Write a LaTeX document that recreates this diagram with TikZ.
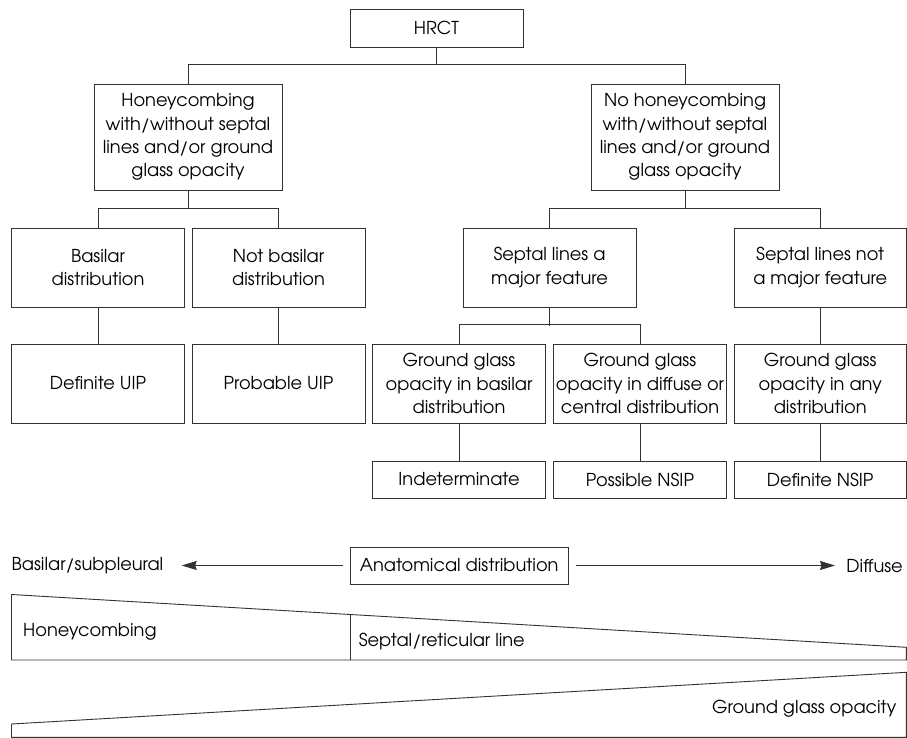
\documentclass[tikz,border=0pt]{standalone}
\usepackage{fontspec}
\setmainfont{TeX Gyre Adventor}
\usetikzlibrary{arrows.meta,calc}
\begin{document}
\begin{tikzpicture}[x=1pt,y=-1pt,
  every node/.style={font=\fontsize{17.8}{23.3}\selectfont},
  box/.style={draw=black!80,line width=0.9pt,inner sep=0pt,align=center,minimum width=173pt},
  big/.style={box,minimum width=188pt,minimum height=106pt},
  mid/.style={box,minimum height=79pt},
  leaf/.style={box,minimum height=37pt},
  conn/.style={draw=black!80,line width=0.9pt},
  arr/.style={conn,-{Stealth[length=15pt,width=9pt,inset=1.5pt]}},
  lbl/.style={inner sep=0pt}]
\useasboundingbox (0,0) rectangle (907,738);
% tree
\node[box,minimum width=173pt,minimum height=38pt] (hrct) at (436.5,28) {HRCT};
\node[big] (hc) at (188,137) {Honeycombing\\with/without septal\\lines and/or ground\\glass opacity};
\node[big] (nohc) at (685,137) {No honeycombing\\with/without septal\\lines and/or ground\\glass opacity};
\node[mid] (bas) at (98,267.5) {Basilar\\distribution};
\node[mid] (nbas) at (278.5,267.5) {Not basilar\\distribution};
\node[mid] (smaj) at (549.5,267.5) {Septal lines a\\major feature};
\node[mid,minimum width=172.5pt] (snot) at (820.2,267.5) {Septal lines not\\a major feature};
\node[mid] (duip) at (98,383.5) {Definite UIP};
\node[mid] (puip) at (278.5,383.5) {Probable UIP};
\node[mid] (gg1) at (459,383.5) {Ground glass\\opacity in basilar\\distribution};
\node[mid] (gg2) at (640,383.5) {Ground glass\\opacity in diffuse or\\central distribution};
\node[mid,minimum width=172.5pt] (gg3) at (820.2,383.5) {Ground glass\\opacity in any\\distribution};
\node[leaf] (ind) at (459,479.5) {Indeterminate};
\node[leaf] (pnsip) at (640,479.5) {Possible NSIP};
\node[leaf,minimum width=172.5pt] (dnsip) at (820.2,479.5) {Definite NSIP};
% connectors
\draw[conn] (hrct.south) -- ++(0,18);
\draw[conn] (hc.north) -- ++(0,-19) -| (nohc.north);
\draw[conn] (hc.south) -- ++(0,19);
\draw[conn] (bas.north) -- ++(0,-19) -| (nbas.north);
\draw[conn] (bas.south) -- (duip.north);
\draw[conn] (nbas.south) -- (puip.north);
\draw[conn] (nohc.south) -- ++(0,19);
\draw[conn] (smaj.north) -- ++(0,-19) -| (snot.north);
\draw[conn] (smaj.south) -- ++(0,18.7);
\draw[conn] (gg1.north) -- ++(0,-18.7) -| (gg2.north);
\draw[conn] (snot.south) -- (gg3.north);
\draw[conn] (gg1.south) -- (ind.north);
\draw[conn] (gg2.south) -- (pnsip.north);
\draw[conn] (gg3.south) -- (dnsip.north);
% anatomical distribution axis
\node[box,minimum width=218.5pt,minimum height=37pt] (anat) at (459.2,565.5) {Anatomical distribution};
\node[lbl,anchor=west] (basl) at (11.5,566) {Basilar/subpleural};
\node[lbl,anchor=east] (diff) at (903,566) {Diffuse};
\draw[arr] ([xshift=-7pt]anat.west) -- (181.7,565.5) coordinate (ltip);
\draw[arr] ([xshift=7.5pt]anat.east) -- (835,565.5) coordinate (rtip);
% wedges
\draw[conn] (11.5,594.5) -- (906.3,647.3) -- (906.3,660) -- (11.5,660) -- cycle;
\draw[conn] (350,614.5) -- (350,660);
\node[lbl,anchor=west] (hon) at (23,631.7) {Honeycombing};
\node[lbl,anchor=west] (sep) at (358.6,641.7) {Septal/reticular line};
\draw[conn] (11.5,724) -- (906.3,672.3) -- (906.3,737.3) -- (11.5,737.3) -- cycle;
\node[lbl,anchor=east] (ggo) at (896.5,708.3) {Ground glass opacity};
\end{tikzpicture}
\end{document}
